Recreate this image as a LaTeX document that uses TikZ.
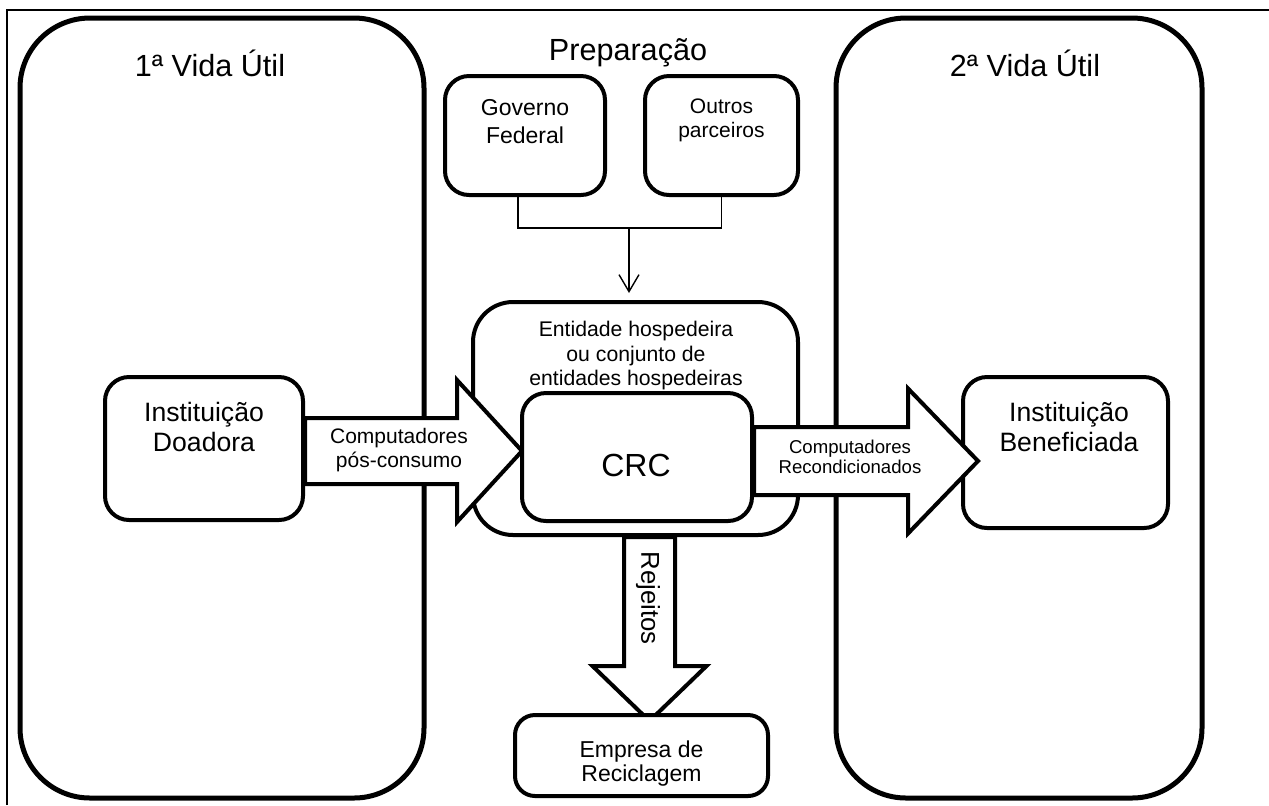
\documentclass[tikz,border=0pt]{standalone}
\usepackage{fontspec}
\setmainfont{Liberation Sans}
\usetikzlibrary{calc,arrows.meta}

\begin{document}
\begin{tikzpicture}[x=0.5pt,y=-0.5pt,
        vida/.style={draw, line width=2.5pt, rounded corners=35pt, inner sep=0pt},
        caixa/.style={draw, fill=white, line width=2pt, rounded corners=12pt, inner sep=0pt},
        bloco/.style={draw, fill=white, line width=2pt, line join=miter},
        txt/.style={align=center, inner sep=0pt},
        fio/.style={line width=0.7pt}]
        \useasboundingbox (0,0) rectangle (1269,805);
        \draw[line width=1.2pt] (7,805) -- (7,10) -- (1269,10);
        % as duas vidas
        \node[vida, minimum width=202pt, minimum height=390pt] (vida1) at (222,408) {};
        \node[vida, minimum width=183pt, minimum height=390pt] (vida2) at (1019,408) {};
        \node[txt, anchor=base, font=\fontsize{15.3pt}{18pt}\selectfont] (tvida1) at (210,76) {1ª Vida Útil};
        \node[txt, anchor=base, font=\fontsize{15.3pt}{18pt}\selectfont] (tvida2) at (1025,76) {2ª Vida Útil};
        % preparacao
        \node[txt, anchor=base, font=\fontsize{15.3pt}{18pt}\selectfont] (tprep) at (628,60) {Preparação};
        \node[caixa, minimum width=80pt, minimum height=59.5pt] (governo) at (525,135.5) {};
        \node[caixa, minimum width=76.5pt, minimum height=59.5pt] (outros) at (721.5,135.5) {};
        \node[txt, anchor=north, font=\fontsize{11.5pt}{13.8pt}\selectfont] (tgoverno) at (525,99) {Governo\\Federal};
        \node[txt, anchor=north, font=\fontsize{10.5pt}{12pt}\selectfont] (toutros) at (721.5,98) {Outros\\parceiros};
        \coordinate (juncao) at (629,228);
        \draw[fio] ($(governo.south)+(-7,0)$) |- (juncao) -| (outros.south);
        % entidade e CRC
        \node[caixa, rounded corners=20pt, minimum width=162.5pt, minimum height=116.5pt] (entidade) at (635.5,418.5) {};
        \node[txt, anchor=north, font=\fontsize{10.6pt}{12.2pt}\selectfont] (tentidade) at (636,321) {Entidade hospedeira\\ou conjunto de\\entidades hospedeiras};
        \draw[fio, -{Straight Barb[length=8.5pt, width=10pt]}] (juncao) -- ($(entidade.north -| juncao)+(0,-7)$);
        \node[caixa, minimum width=99pt, minimum height=71.5pt] (doadora) at (204,448.5) {};
        \node[txt, anchor=north, font=\fontsize{13.3pt}{15pt}\selectfont] (tdoadora) at (204,401.5) {Instituição\\Doadora};
        \node[caixa, minimum width=102.5pt, minimum height=75.5pt] (beneficiada) at (1065.5,452.5) {};
        \node[txt, anchor=north, font=\fontsize{13.3pt}{15pt}\selectfont] (tbeneficiada) at (1069,401.5) {Instituição\\Beneficiada};
        % seta de entrada
        \coordinate (s1) at ($(doadora.east)+(0,2.5)$);
        \coordinate (t1) at (s1 -| 522,0);
        \draw[bloco] ($(s1)+(0,-33)$) -- ($(t1)+(-65,-33)$) -- ($(t1)+(-65,-71)$) -- (t1)
            -- ($(t1)+(-65,71)$) -- ($(t1)+(-65,33)$) -- ($(s1)+(0,33)$) -- cycle;
        \node[txt, anchor=north, font=\fontsize{10.5pt}{11.7pt}\selectfont] (tentrada) at (399,428) {Computadores\\pós-consumo};
        \node[caixa, minimum width=115pt, minimum height=64pt] (crc) at (637,457) {};
        \node[txt, anchor=base, font=\fontsize{16pt}{19pt}\selectfont] (tcrc) at (636,476.7) {CRC};
        % seta de saida
        \coordinate (s2) at ($(crc.east)+(0,4)$);
        \coordinate (t2) at ($(s2 -| beneficiada.west)+(17,0)$);
        \draw[bloco] ($(s2)+(0,-34)$) -- ($(t2)+(-70,-34)$) -- ($(t2)+(-70,-72.5)$) -- (t2)
            -- ($(t2)+(-70,72.5)$) -- ($(t2)+(-70,34)$) -- ($(s2)+(0,34)$) -- cycle;
        \node[txt, anchor=north, font=\fontsize{9.3pt}{10pt}\selectfont] (tsaida) at (850,439.3) {Computadores\\Recondicionados};
        % rejeitos
        \coordinate (empresatopo) at (641.5,715);
        \coordinate (s3) at ($(entidade.south)+(14,0)$);
        \coordinate (t3) at ($(s3 |- empresatopo)+(0,6)$);
        \draw[bloco] ($(s3)+(-25.5,0)$) -- ($(t3)+(-25.5,-55)$) -- ($(t3)+(-57,-55)$) -- (t3)
            -- ($(t3)+(57,-55)$) -- ($(t3)+(25.5,-55)$) -- ($(s3)+(25.5,0)$) -- cycle;
        \node[txt, rotate=-90, font=\fontsize{12.9pt}{15pt}\selectfont] (trejeitos) at (648,598) {Rejeitos};
        \node[caixa, rounded corners=10pt, minimum width=126.5pt, minimum height=40.5pt] (empresa) at (641.5,755.5) {};
        \node[txt, anchor=north, font=\fontsize{11.5pt}{12.2pt}\selectfont] (tempresa) at (641.5,740.5) {Empresa de\\Reciclagem};
\end{tikzpicture}
\end{document}
